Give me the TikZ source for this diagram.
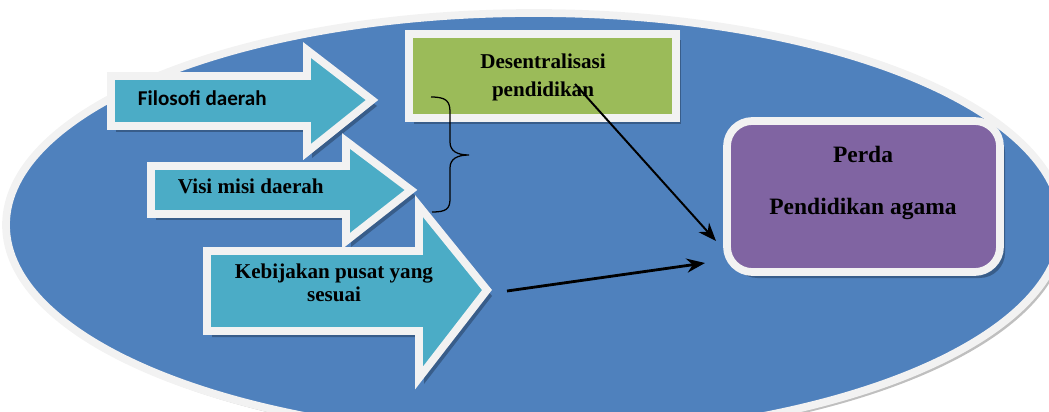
\documentclass[tikz,border=0pt]{standalone}
\usepackage{fontspec}
\setmainfont{Liberation Serif}
\newfontfamily\calibrifont{Carlito}
\usetikzlibrary{arrows.meta, positioning}

\definecolor{ellipseblue}{HTML}{4F81BD}
\definecolor{ellipseshade}{HTML}{BFBFBF}
\definecolor{arrowcyan}{HTML}{4BACC6}
\definecolor{boxgreen}{HTML}{9BBB59}
\definecolor{boxpurple}{HTML}{8064A2}
\definecolor{framewhite}{HTML}{F2F2F2}
\definecolor{shadowblue}{HTML}{385D8A}

\tikzset{
  frame/.style={draw=framewhite, line width=5.5pt, line join=miter, miter limit=10},
  blockarrow/.style={frame, fill=arrowcyan},
  dropshadow/.style={fill=shadowblue, shift={(5,6)}},
  boldtext/.style={text=black, font=\bfseries\fontsize{15}{16.4}\selectfont},
  sanstext/.style={text=black, font=\calibrifont\bfseries\fontsize{15}{18}\selectfont},
  perdatext/.style={text=black, font=\bfseries\fontsize{16.7}{20}\selectfont},
  link/.style={black, -{Stealth[length=13pt, width=10pt]}},
}

\begin{document}
\begin{tikzpicture}[x=0.025cm, y=-0.025cm]
\useasboundingbox (0,0) rectangle (1049,412);

% background ellipse
\fill[ellipseshade] (538,230) ellipse [x radius=528, y radius=212];
\draw[frame, fill=ellipseblue] (534,225) ellipse [x radius=528, y radius=212];

% block arrows
\fill[dropshadow] (111,76) -- (307,76) -- (307,50) -- (372,100) -- (307,152) -- (307,126) -- (111,126) -- cycle;
\draw[blockarrow] (111,76) -- (307,76) -- (307,50) -- (372,100) -- (307,152) -- (307,126) -- (111,126) -- cycle;
\node[sanstext, anchor=west] (filosofi) at (133,98) {Filosofi daerah};

\fill[dropshadow] (151,166) -- (346,166) -- (346,141) -- (411,190) -- (346,241) -- (346,214) -- (151,214) -- cycle;
\draw[blockarrow] (151,166) -- (346,166) -- (346,141) -- (411,190) -- (346,241) -- (346,214) -- (151,214) -- cycle;
\node[boldtext, anchor=west] (visi) at (173,186) {Visi misi daerah};

\fill[dropshadow] (207,251) -- (419,251) -- (419,206) -- (487,290) -- (419,378) -- (419,331) -- (207,331) -- cycle;
\draw[blockarrow] (207,251) -- (419,251) -- (419,206) -- (487,290) -- (419,378) -- (419,331) -- (207,331) -- cycle;
\node[boldtext, align=center] (kebijakan) at (334,283) {Kebijakan pusat yang\\sesuai};

% boxes
\fill[dropshadow] (409,34) rectangle (676,118);
\draw[frame, fill=boxgreen] (409,34) rectangle (676,118);
\node[boldtext, align=center] (desen) at (543,77) {Desentralisasi\\[3.5pt]pendidikan};

\fill[dropshadow, rounded corners=18] (727,121) rectangle (1000,272);
\draw[frame, fill=boxpurple, rounded corners=18] (727,121) rectangle (1000,272);
\node[perdatext, align=center] (perda) at (863,183) {Perda\\[17pt]Pendidikan agama};

% brace
\coordinate (braceTop) at (431,97);
\coordinate (braceTip) at (469,155);
\coordinate (braceBot) at (432,212);
\draw[line width=0.9pt] (braceTop) .. controls (446,97) and (450,101) .. (450,112) -- (450,142)
  .. controls (450,151) and (457,155) .. (braceTip)
  .. controls (457,155) and (450,159) .. (450,168) -- (450,199)
  .. controls (450,209) and (446,212) .. (braceBot);

% connectors
\coordinate (tailA) at (575,84);
\coordinate (headA) at (716,241);
\coordinate (tailB) at (507,291);
\coordinate (headB) at (705,263);
\draw[link, line width=1.4pt] (tailA) -- (headA);
\draw[link, line width=2pt] (tailB) -- (headB);

\end{tikzpicture}
\end{document}
